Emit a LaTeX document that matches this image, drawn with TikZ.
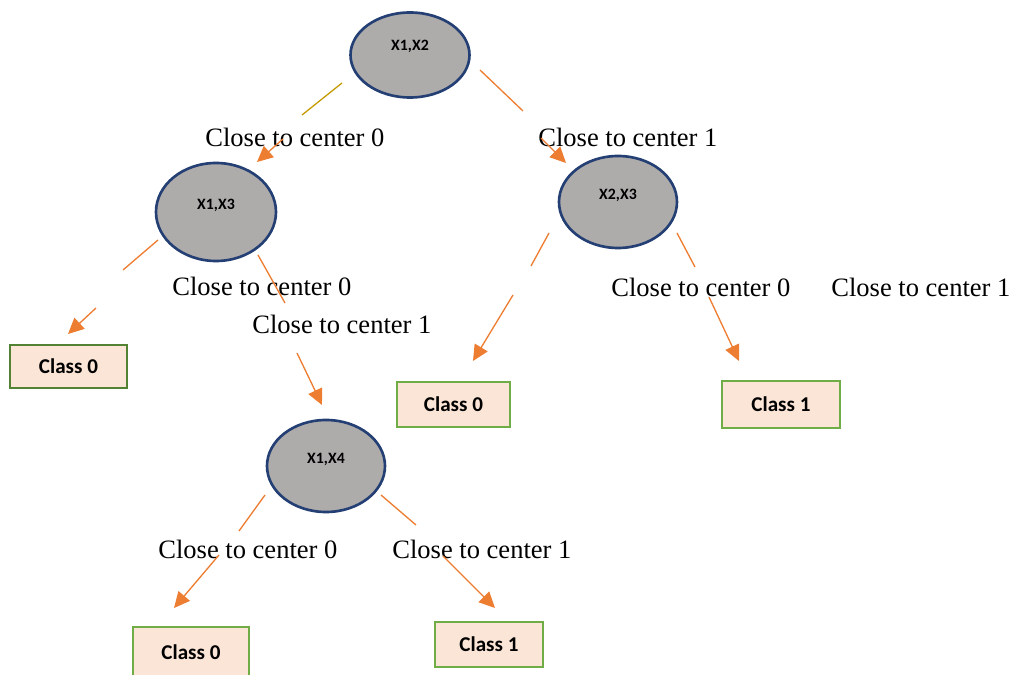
\documentclass[tikz,border=0pt]{standalone}
\usepackage{fontspec}
\setmainfont{Liberation Serif}
\newfontfamily\boxfont{Carlito}
\usetikzlibrary{arrows.meta,shapes.geometric}
\definecolor{orng}{HTML}{ED7D31}
\definecolor{gold}{HTML}{C49A00}
\definecolor{ellfill}{HTML}{AEABAB}
\definecolor{ellline}{HTML}{243F73}
\definecolor{boxfill}{HTML}{FBE5D6}
\definecolor{grnA}{HTML}{70AD47}
\definecolor{grnB}{HTML}{548235}
\tikzset{
  ell/.style={ellipse,draw=ellline,fill=ellfill,line width=1.5pt,inner sep=0pt},
  etext/.style={font=\boxfont\bfseries\fontsize{9}{10}\selectfont,inner sep=0pt},
  cls/.style={rectangle,draw=grnA,fill=boxfill,line width=1.6pt,inner sep=0pt,
    font=\boxfont\bfseries\fontsize{12}{14}\selectfont},
  lbl/.style={anchor=base west,inner sep=0pt,font=\fontsize{15.1}{18}\selectfont},
  seg/.style={draw=orng,line width=0.75pt},
  arr/.style={draw=orng,line width=0.75pt,-{Triangle[length=9pt,width=8.5pt,fill=orng]}}
}
\begin{document}
\begin{tikzpicture}[x=0.02cm,y=-0.02cm]
\path[use as bounding box] (0,0) rectangle (1019,675);
\clip (0,0) rectangle (1019,675);
% ellipses
\node[ell,minimum width=119*0.02cm,minimum height=85*0.02cm] (n12) at (410,55) {};
\node[ell,minimum width=120*0.02cm,minimum height=98*0.02cm] (n13) at (216,212) {};
\node[ell,minimum width=118*0.02cm,minimum height=92*0.02cm] (n23) at (618,202) {};
\node[ell,minimum width=118*0.02cm,minimum height=92*0.02cm] (n14) at (326,466) {};
\node[etext] (t12) at ([yshift=5pt]n12.center) {X1,X2};
\node[etext] (t13) at ([yshift=4pt]n13.center) {X1,X3};
\node[etext] (t23) at ([yshift=4pt]n23.center) {X2,X3};
\node[etext] (t14) at ([yshift=3.5pt]n14.center) {X1,X4};
% class boxes
\node[cls,draw=grnB,minimum width=117*0.02cm,minimum height=43*0.02cm] (c1) at (68.5,366.5) {Class 0};
\node[cls,minimum width=113*0.02cm,minimum height=45*0.02cm] (c2) at (453.5,404.5) {Class 0};
\node[cls,minimum width=118*0.02cm,minimum height=47*0.02cm] (c3) at (781,404.5) {Class 1};
\node[cls,minimum width=116*0.02cm,minimum height=50*0.02cm] (c4) at (191,652) {Class 0};
\node[cls,minimum width=108*0.02cm,minimum height=45*0.02cm] (c5) at (489,644.5) {Class 1};
% labels
\node[lbl] (l1) at (205,146.5) {Close to center 0};
\node[lbl] (l2) at (538,146.5) {Close to center 1};
\node[lbl] (l3) at (172,295.5) {Close to center 0};
\node[lbl] (l4) at (252,333.5) {Close to center 1};
\node[lbl] (l5) at (611,296.5) {Close to center 0};
\node[lbl] (l6) at (831,296.5) {Close to center 1};
\node[lbl] (l7) at (158,558.5) {Close to center 0};
\node[lbl] (l8) at (392,558.5) {Close to center 1};
% connector points
\coordinate (a1) at (342,83);  \coordinate (a2) at (302,115);
\coordinate (a3) at (283,139); \coordinate (a4) at (257,162);
\coordinate (b1) at (480,70);  \coordinate (b2) at (523,111);
\coordinate (b3) at (541,138); \coordinate (b4) at (566,163);
\coordinate (c1a) at (158,240); \coordinate (c1b) at (123,270);
\coordinate (c1c) at (96,308);  \coordinate (c1d) at (68,334);
\coordinate (d1) at (258,255); \coordinate (d2) at (285,303);
\coordinate (d3) at (297,353); \coordinate (d4) at (322,405);
\coordinate (e1) at (549,233); \coordinate (e2) at (531,266);
\coordinate (e3) at (513,295); \coordinate (e4) at (473,361);
\coordinate (f1) at (677,233); \coordinate (f2) at (695,267);
\coordinate (f3) at (709,297); \coordinate (f4) at (739,361);
\coordinate (g1) at (265,495); \coordinate (g2) at (239,531);
\coordinate (g3) at (219,555); \coordinate (g4) at (174,608);
\coordinate (h1) at (381,495); \coordinate (h2) at (416,525);
\coordinate (h3) at (443,556); \coordinate (h4) at (495,608);
% connectors
\draw[seg,draw=gold] (a1) -- (a2);
\draw[arr] (a3) -- (a4);
\draw[seg] (b1) -- (b2);
\draw[arr] (b3) -- (b4);
\draw[seg] (c1a) -- (c1b);
\draw[arr] (c1c) -- (c1d);
\draw[seg] (d1) -- (d2);
\draw[arr] (d3) -- (d4);
\draw[seg] (e1) -- (e2);
\draw[arr] (e3) -- (e4);
\draw[seg] (f1) -- (f2);
\draw[arr] (f3) -- (f4);
\draw[seg] (g1) -- (g2);
\draw[arr] (g3) -- (g4);
\draw[seg] (h1) -- (h2);
\draw[arr] (h3) -- (h4);
\end{tikzpicture}
\end{document}
